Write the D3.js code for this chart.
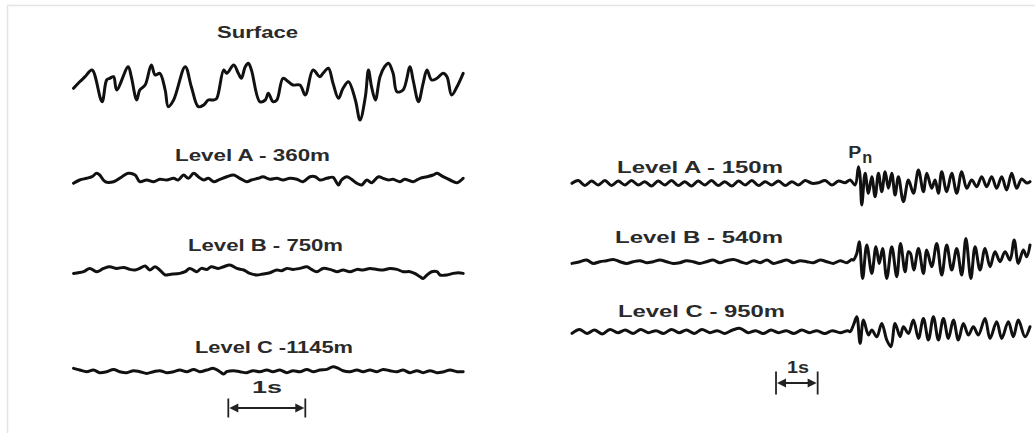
<!DOCTYPE html>
<html>
<head>
<meta charset="utf-8">
<script src="https://cdn.jsdelivr.net/npm/d3@7"></script>
<style>
  body { margin: 0; background: #fff; }
  svg text { font-family: "Liberation Sans", Arial, sans-serif; font-weight: bold; fill: #2a2a2a; }
</style>
</head>
<body>
<svg id="chart"></svg>
<script>
// time in seconds, amplitude in arbitrary units (positive = up)
const leftLabels = ["Surface", "Level A - 360m", "Level B - 750m", "Level C -1145m"];
const rightLabels = ["Level A - 150m", "Level B - 540m", "Level C - 950m"];
const onsetLabel = ["P", "n"];
const scaleLabel = "1s";

const surface = [[0.02,-1.3],[0.10,5.3],[0.17,10.3],[0.26,17],[0.39,-14.7],[0.45,7],[0.49,8.7],[0.54,10.3],[0.58,-3],[0.73,20.3],
  [0.77,10.3],[0.84,-13],[0.88,-3],[0.95,2],[1.03,22],[1.08,12],[1.14,13.7],[1.21,-3],[1.25,-19.7],[1.32,-13],
  [1.47,20.3],[1.55,0.3],[1.64,-19.7],[1.71,-18],[1.77,-13],[1.84,-13],[1.88,-11.3],[1.97,17],[2.01,13.7],[2.10,22],
  [2.16,13.7],[2.20,8.7],[2.25,20.3],[2.29,23.7],[2.33,17],[2.44,-14.7],[2.51,-13],[2.55,-6.3],[2.61,-14.7],[2.66,-13],
  [2.74,8.7],[2.81,5.3],[2.87,2],[2.96,2],[3.03,-8],[3.13,17],[3.22,10.3],[3.26,13.7],[3.33,18.7],[3.39,3.7],
  [3.46,-11.3],[3.52,-1.3],[3.59,5.3],[3.68,-13],[3.74,-33],[3.81,-9.7],[3.85,17],[3.89,0.3],[3.94,-13],[4.00,10.3],
  [4.06,20.3],[4.11,23.7],[4.17,13.7],[4.22,-4.7],[4.30,-3],[4.39,20.3],[4.43,7],[4.50,-14.7],[4.56,3.7],[4.61,17],
  [4.67,7],[4.74,8.7],[4.82,13.7],[4.87,10.3],[4.93,-8],[5.00,0.3],[5.08,13.7]];

const leftA = [[0.02,-3.3],[0.10,0],[0.19,1.7],[0.26,3.3],[0.32,6.7],[0.36,5],[0.43,-1.7],[0.54,-1.7],[0.65,3.3],[0.73,6.7],
  [0.82,5],[0.88,-1.7],[0.97,0],[1.06,-1.7],[1.14,0.7],[1.23,0],[1.32,1.7],[1.38,0],[1.45,5],[1.51,1.7],
  [1.58,6.7],[1.64,3.3],[1.71,0],[1.77,1.7],[1.84,-1.7],[1.92,0.7],[2.01,3.3],[2.10,5],[2.18,1.7],[2.27,-1.7],
  [2.33,0],[2.42,1.7],[2.48,3.3],[2.57,0.7],[2.66,1.7],[2.74,0],[2.83,1.7],[2.92,0.7],[3.00,-1.7],[3.09,3.3],
  [3.16,3.3],[3.22,0],[3.31,1.7],[3.39,2.7],[3.46,-5],[3.50,0],[3.57,3.3],[3.63,0.7],[3.70,-3.3],[3.76,-5],
  [3.83,0],[3.89,-2.7],[3.98,3.3],[4.04,1.7],[4.11,0],[4.17,0.7],[4.26,-1.7],[4.32,0.7],[4.43,-1.7],[4.52,1.7],
  [4.61,3.3],[4.69,5],[4.74,6.7],[4.82,3.3],[4.91,0],[5.00,-2.7],[5.08,1.7]];

const leftB = [[0.02,-1.7],[0.15,0],[0.23,3.3],[0.32,0],[0.41,3.3],[0.49,5],[0.58,3.3],[0.67,4.3],[0.75,2.3],[0.82,1.7],
  [0.88,3.3],[0.95,5.7],[1.01,1.7],[1.08,5],[1.14,1.7],[1.21,-3.3],[1.27,-2.7],[1.40,-1.7],[1.47,0],[1.53,3.3],
  [1.62,0],[1.68,3.3],[1.75,2.3],[1.81,5],[1.90,3.3],[1.97,5],[2.05,6.7],[2.14,3.3],[2.23,1.7],[2.31,-1.7],
  [2.40,-3.3],[2.48,-2.3],[2.57,-1],[2.66,1.7],[2.72,1],[2.79,3.3],[2.87,2.3],[2.96,3.3],[3.05,5],[3.11,2.3],
  [3.18,0],[3.26,3.3],[3.35,2.3],[3.44,0],[3.52,1.7],[3.61,0],[3.70,2.3],[3.78,1.7],[3.87,3.3],[3.96,2.3],
  [4.04,1.7],[4.13,3.3],[4.22,2.3],[4.30,0],[4.39,0],[4.45,-1.7],[4.52,-5],[4.56,-6.7],[4.61,-3.3],[4.67,0],
  [4.74,0],[4.78,-3.3],[4.87,-3.3],[4.95,-1.7],[5.02,-1],[5.08,-1.7]];

const leftC = [[0.02,3.3],[0.10,1.7],[0.19,0],[0.28,1.7],[0.36,-1],[0.45,0],[0.54,2.3],[0.62,0],[0.71,-1],[0.80,1],
  [0.88,0],[0.97,-1.7],[1.06,0],[1.14,1],[1.23,-1],[1.32,0],[1.40,1.7],[1.49,0],[1.58,2.3],[1.66,0],
  [1.75,1.7],[1.84,3.3],[1.92,0],[1.97,-2.3],[2.01,0],[2.10,1],[2.18,0],[2.27,-1],[2.35,1],[2.44,0],
  [2.53,1.7],[2.61,0],[2.70,1.7],[2.79,-1],[2.87,1],[2.96,0],[3.05,2.3],[3.13,0],[3.22,1.7],[3.31,2.3],
  [3.39,5],[3.46,3.3],[3.52,1],[3.61,0],[3.70,1.7],[3.78,0],[3.87,1.7],[3.96,0],[4.04,2.3],[4.13,1],
  [4.22,0],[4.30,1.7],[4.39,-1],[4.48,1],[4.56,-1],[4.65,1],[4.74,-1],[4.83,0],[4.91,1.7],[5.00,0],[5.08,0]];

const rightA = [[0,-0.3],[0.15,2.5],[0.31,-2.5],[0.47,2],[0.63,-2],[0.79,2.5],[0.95,-2.5],[1.11,2],[1.27,-2],[1.43,2.5],
  [1.59,-2],[1.75,1.3],[1.91,-3],[2.07,2],[2.23,-2],[2.39,2.5],[2.55,-2.5],[2.71,1.3],[2.87,-3],[3.03,2],
  [3.19,-2],[3.35,2.5],[3.51,-2.5],[3.67,1.3],[3.84,-3],[4.00,2],[4.16,-2],[4.32,2.5],[4.48,-2.5],[4.64,1.3],
  [4.80,-2],[4.96,2],[5.12,-2.5],[5.28,1.3],[5.44,-2],[5.60,2.5],[5.76,-0.3],[5.92,0.3],[6.08,2.5],[6.24,-2],
  [6.40,2],[6.56,0.3],[6.68,3],
  [6.80,-2],[6.88,16.3],[6.92,6.3],[6.96,-22],[7.04,9.7],[7.12,-10.3],[7.20,6.3],[7.28,-13.7],[7.36,9.7],[7.44,-8.7],
  [7.52,11.3],[7.60,-5.3],[7.68,9.7],[7.76,-12],[7.84,6.3],[7.96,-18.7],[8.08,3],[8.20,-10.3],[8.32,13],[8.44,-8.7],
  [8.52,9.7],[8.64,-5.3],[8.72,3],[8.80,-10.3],[8.88,11.3],[9.00,-8.7],[9.12,9.7],[9.24,-10.3],[9.36,11.3],[9.48,-5.3],
  [9.60,3],[9.72,-3.7],[9.84,6.3],[9.96,-3.7],[10.08,6.3],[10.20,-5.3],[10.32,6.3],[10.44,-7],[10.56,9.7],[10.68,-5.3],
  [10.80,4],[10.92,0],[11.0,1.3]];

const rightB = [[0,-1.7],[0.19,0],[0.35,1.7],[0.51,-1.7],[0.67,0],[0.83,1],[0.99,2.3],[1.15,0],[1.31,-1.7],[1.47,0],
  [1.63,1],[1.79,-1],[1.95,0],[2.11,1.7],[2.27,0],[2.43,-1.7],[2.59,-1],[2.75,1],[2.91,0],[3.07,-1.7],
  [3.23,0],[3.39,1.7],[3.55,-1],[3.71,1],[3.88,2.3],[4.04,0],[4.20,-1.7],[4.36,1],[4.52,-1],[4.68,1.7],
  [4.84,-1.7],[5.00,0],[5.16,1.7],[5.32,-1],[5.48,1],[5.64,0],[5.80,-1],[5.96,1.7],[6.12,0],[6.28,-1.7],
  [6.44,1],[6.60,-1],[6.72,2.3],
  [6.76,1.7],[6.84,8.3],[6.90,20],[6.98,-16.7],[7.08,16.7],[7.20,-11.7],[7.30,15],[7.38,-1.7],[7.46,13.3],[7.56,-16.7],
  [7.68,15],[7.80,-15],[7.89,18.3],[8.00,-10],[8.08,10],[8.13,8.3],[8.21,-8.3],[8.32,13.3],[8.44,-11.7],[8.52,11.7],
  [8.64,-5],[8.76,18.3],[8.88,-13.3],[9.00,16.7],[9.12,-8.3],[9.24,13.3],[9.36,-13.3],[9.46,23.3],[9.58,-16.7],[9.68,15],
  [9.80,-8.3],[9.92,13.3],[10.04,-5],[10.16,10],[10.28,0],[10.40,10],[10.52,1.7],[10.62,21.7],[10.72,-1.7],[10.84,11.7],
  [10.92,5],[11.0,16.7]];

const rightC = [[0,-1.7],[0.18,2.3],[0.36,-1.7],[0.54,1.7],[0.73,-2.3],[0.91,2.3],[1.10,-1],[1.28,1.7],[1.47,-1.7],[1.65,2.3],
  [1.83,-1],[2.02,1],[2.20,-1.7],[2.39,2.3],[2.57,-1],[2.75,1.7],[2.94,-1.7],[3.12,2.3],[3.31,-1],[3.49,1],
  [3.67,-1.7],[3.86,1.7],[4.04,3.3],[4.23,-1],[4.41,1],[4.60,-1.7],[4.78,1.7],[4.96,-1],[5.15,1],[5.33,-1.7],
  [5.52,1.7],[5.70,-1],[5.88,1],[6.07,-1.7],[6.25,1],[6.44,-1],[6.62,1],
  [6.68,0],[6.76,6.7],[6.84,15],[6.92,-11.7],[7.00,11.7],[7.12,-3.3],[7.20,1.7],[7.32,-5],[7.44,8.3],[7.56,-8.3],
  [7.66,-15],[7.76,8.3],[7.88,-5],[7.96,5],[8.08,-1.7],[8.20,11.7],[8.32,-6.7],[8.44,13.3],[8.56,-8.3],[8.68,15],
  [8.80,-8.3],[8.92,13.3],[9.04,-6.7],[9.16,11.7],[9.28,-8.3],[9.40,8.3],[9.52,-3.3],[9.64,5],[9.76,-3.3],[9.92,13.3],
  [10.04,-6.7],[10.20,10],[10.32,-6.7],[10.48,10],[10.60,-5],[10.72,11.7],[10.88,-5],[11.0,5]];

const onsetTime = 6.78;

const width = 1035, height = 433;
const svg = d3.select("#chart").attr("width", width).attr("height", height);

// faint frame of the scanned figure
svg.append("path")
    .attr("d", "M7.5,433V5.5H1035")
    .attr("fill", "none")
    .attr("stroke", "#e4e4e4")
    .attr("stroke-width", 1.5);

var xLeft = d3.scaleLinear().domain([0, 5.1]).range([72, 464.7]);
var xRight = d3.scaleLinear().domain([0, 11]).range([572, 1030]);

var leftRows = [
    { data: surface, base: 87, label: leftLabels[0], lx: 257.5, ly: 38, lw: 81 },
    { data: leftA, base: 180, label: leftLabels[1], lx: 252.5, ly: 160.7, lw: 155 },
    { data: leftB, base: 271.7, label: leftLabels[2], lx: 265.5, ly: 250.7, lw: 155 },
    { data: leftC, base: 371.7, label: leftLabels[3], lx: 274, ly: 353.3, lw: 158 }
];
var rightRows = [
    { data: rightA, base: 183, label: rightLabels[0], lx: 700, ly: 172.7, lw: 166 },
    { data: rightB, base: 261.7, label: rightLabels[1], lx: 699, ly: 243.3, lw: 168 },
    { data: rightC, base: 331.7, label: rightLabels[2], lx: 701.5, ly: 316.7, lw: 167 }
];

function drawRows(rows, x) {
    rows.forEach(function(r) {
        var y = d3.scaleLinear().domain([-40, 40]).range([r.base + 40, r.base - 40]);
        var line = d3.line()
            .curve(d3.curveCatmullRom.alpha(0.5))
            .x(function(d) { return x(d[0]); })
            .y(function(d) { return y(d[1]); });
        svg.append("path")
            .datum(r.data)
            .attr("fill", "none")
            .attr("stroke", "#111")
            .attr("stroke-width", 3)
            .attr("stroke-linejoin", "round")
            .attr("stroke-linecap", "round")
            .attr("d", line);
        svg.append("text")
            .attr("x", r.lx - r.lw / 2)
            .attr("y", r.ly)
            .attr("font-size", 16)
            .attr("textLength", r.lw)
            .attr("lengthAdjust", "spacingAndGlyphs")
            .text(r.label);
    });
}
drawRows(leftRows, xLeft);
drawRows(rightRows, xRight);

// Pn onset marker
var px = xRight(onsetTime);
svg.append("text").attr("x", px - 6).attr("y", 158).attr("font-size", 16)
    .attr("textLength", 13).attr("lengthAdjust", "spacingAndGlyphs").text(onsetLabel[0]);
svg.append("text").attr("x", px + 8).attr("y", 162.5).attr("font-size", 17)
    .attr("textLength", 10).attr("lengthAdjust", "spacingAndGlyphs").text(onsetLabel[1]);

// 1 second scale bars
function scaleBar(x, t0, yMid, tickH, lx, lw, ly) {
    var x0 = x(t0), x1 = x(t0 + 1);
    var g = svg.append("g").attr("stroke", "#222").attr("stroke-width", 1.8);
    g.append("line").attr("x1", x0).attr("x2", x0).attr("y1", yMid - tickH).attr("y2", yMid + tickH);
    g.append("line").attr("x1", x1).attr("x2", x1).attr("y1", yMid - tickH).attr("y2", yMid + tickH);
    g.append("line").attr("x1", x0 + 4).attr("x2", x1 - 4).attr("y1", yMid).attr("y2", yMid);
    var a = 9, h = 4.5;
    svg.append("path")
        .attr("fill", "#222")
        .attr("d", "M" + (x0 + 1) + "," + yMid + "L" + (x0 + 1 + a) + "," + (yMid - h) + "L" + (x0 + 1 + a) + "," + (yMid + h) + "Z"
                 + "M" + (x1 - 1) + "," + yMid + "L" + (x1 - 1 - a) + "," + (yMid - h) + "L" + (x1 - 1 - a) + "," + (yMid + h) + "Z");
    svg.append("text")
        .attr("x", lx - lw / 2).attr("y", ly).attr("font-size", 16)
        .attr("textLength", lw).attr("lengthAdjust", "spacingAndGlyphs")
        .text(scaleLabel);
}
scaleBar(xLeft, 2.03, 408, 9.5, 267, 30, 393);
scaleBar(xRight, 4.9, 383, 11.5, 798, 22, 373.3);
</script>
</body>
</html>
